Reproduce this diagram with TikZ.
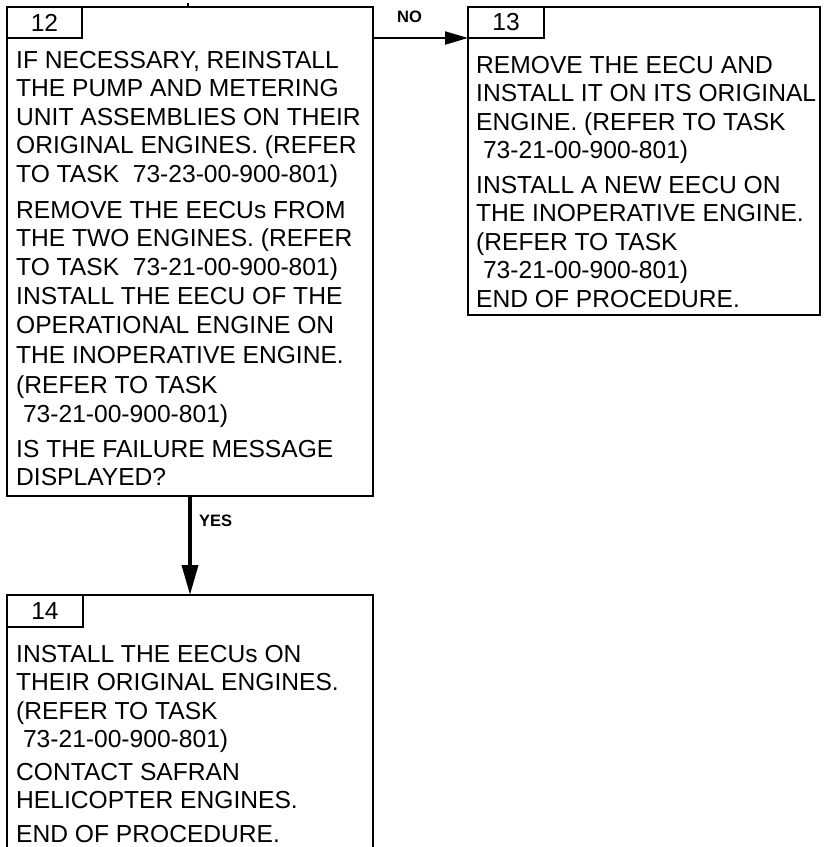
\documentclass[tikz,border=0pt]{standalone}
\usepackage{fontspec}
\setmainfont{Liberation Sans}
\usetikzlibrary{arrows.meta}
\begin{document}
\begin{tikzpicture}[x=1pt,y=-1pt,
  box/.style={draw,line width=2.5pt,anchor=north west,inner sep=0pt,outer sep=0pt},
  hdr/.style={draw,line width=2pt,anchor=north west,inner sep=0pt,outer sep=0pt,
    minimum width=75pt,minimum height=31pt,font=\fontsize{24.6}{28.6}\selectfont},
  txt/.style={anchor=base west,inner sep=0pt,font=\fontsize{24.6}{28.6}\selectfont},
  lbl/.style={anchor=base west,inner sep=0pt,font=\fontsize{16.5}{18}\selectfont\bfseries},
  noarrow/.style={line width=2pt,-{Triangle[length=23pt,width=13pt]}},
  yesarrow/.style={line width=3.5pt,-{Triangle[length=30pt,width=16pt]}}
]
\useasboundingbox (0,0) rectangle (823,847);
\fill[white] (0,0) rectangle (823,847);
\clip (0,0) rectangle (823,847);

% boxes
\node[box,minimum width=366pt,minimum height=489pt] (b12) at (7,7) {};
\node[box,minimum width=352pt,minimum height=308pt] (b13) at (468,7) {};
\node[box,minimum width=366pt,minimum height=300pt] (b14) at (7,595) {};

% headers
\node[hdr] (h12) at (b12.north west) {12};
\node[hdr,minimum width=76pt] (h13) at (b13.north west) {13};
\node[hdr,minimum width=76pt,minimum height=32pt] (h14) at (b14.north west) {14};

% connectors
\coordinate (top) at (188,3);
\draw[line width=2.5pt] (top) -- (top |- b12.north);
\draw[noarrow] (b12.east |- h13.south) -- (b13.west |- h13.south);
\draw[yesarrow] (b12.south) -- (b14.north);
\node[lbl] (lno) at (397,22) {NO};
\node[lbl] (lyes) at (199,526) {YES};

% box 12 text
\node[txt] (a1) at (16,68) {IF NECESSARY, REINSTALL};
\node[txt] (a2) at (16,96.5) {THE PUMP AND METERING};
\node[txt] (a3) at (16,125) {UNIT ASSEMBLIES ON THEIR};
\node[txt] (a4) at (16,153.5) {ORIGINAL ENGINES. (REFER};
\node[txt] (a5) at (16,182) {TO TASK\ \ 73-23-00-900-801)};
\node[txt] (a6) at (16,218) {REMOVE THE EECUs FROM};
\node[txt] (a7) at (16,246.5) {THE TWO ENGINES. (REFER};
\node[txt] (a8) at (16,275) {TO TASK\ \ 73-21-00-900-801)};
\node[txt] (a9) at (16,304) {INSTALL THE EECU OF THE};
\node[txt] (a10) at (16,333) {OPERATIONAL ENGINE ON};
\node[txt] (a11) at (16,363) {THE INOPERATIVE ENGINE.};
\node[txt] (a12) at (16,393) {(REFER TO TASK};
\node[txt] (a13) at (16,422) {\ 73-21-00-900-801)};
\node[txt] (a14) at (16,457) {IS THE FAILURE MESSAGE};
\node[txt] (a15) at (16,485.5) {DISPLAYED?};

% box 13 text
\node[txt] (c1) at (476,73) {REMOVE THE EECU AND};
\node[txt] (c2) at (476,101.5) {INSTALL IT ON ITS ORIGINAL};
\node[txt] (c3) at (476,130) {ENGINE. (REFER TO TASK};
\node[txt] (c4) at (476,158.5) {\ 73-21-00-900-801)};
\node[txt] (c5) at (476,193) {INSTALL A NEW EECU ON};
\node[txt] (c6) at (476,221.5) {THE INOPERATIVE ENGINE.};
\node[txt] (c7) at (476,250) {(REFER TO TASK};
\node[txt] (c8) at (476,278.5) {\ 73-21-00-900-801)};
\node[txt] (c9) at (476,307) {END OF PROCEDURE.};

% box 14 text
\node[txt] (d1) at (16,662) {INSTALL THE EECUs ON};
\node[txt] (d2) at (16,690.5) {THEIR ORIGINAL ENGINES.};
\node[txt] (d3) at (16,719) {(REFER TO TASK};
\node[txt] (d4) at (16,747.5) {\ 73-21-00-900-801)};
\node[txt] (d5) at (16,780) {CONTACT SAFRAN};
\node[txt] (d6) at (16,808.5) {HELICOPTER ENGINES.};
\node[txt] (d7) at (16,842) {END OF PROCEDURE.};
\end{tikzpicture}
\end{document}
